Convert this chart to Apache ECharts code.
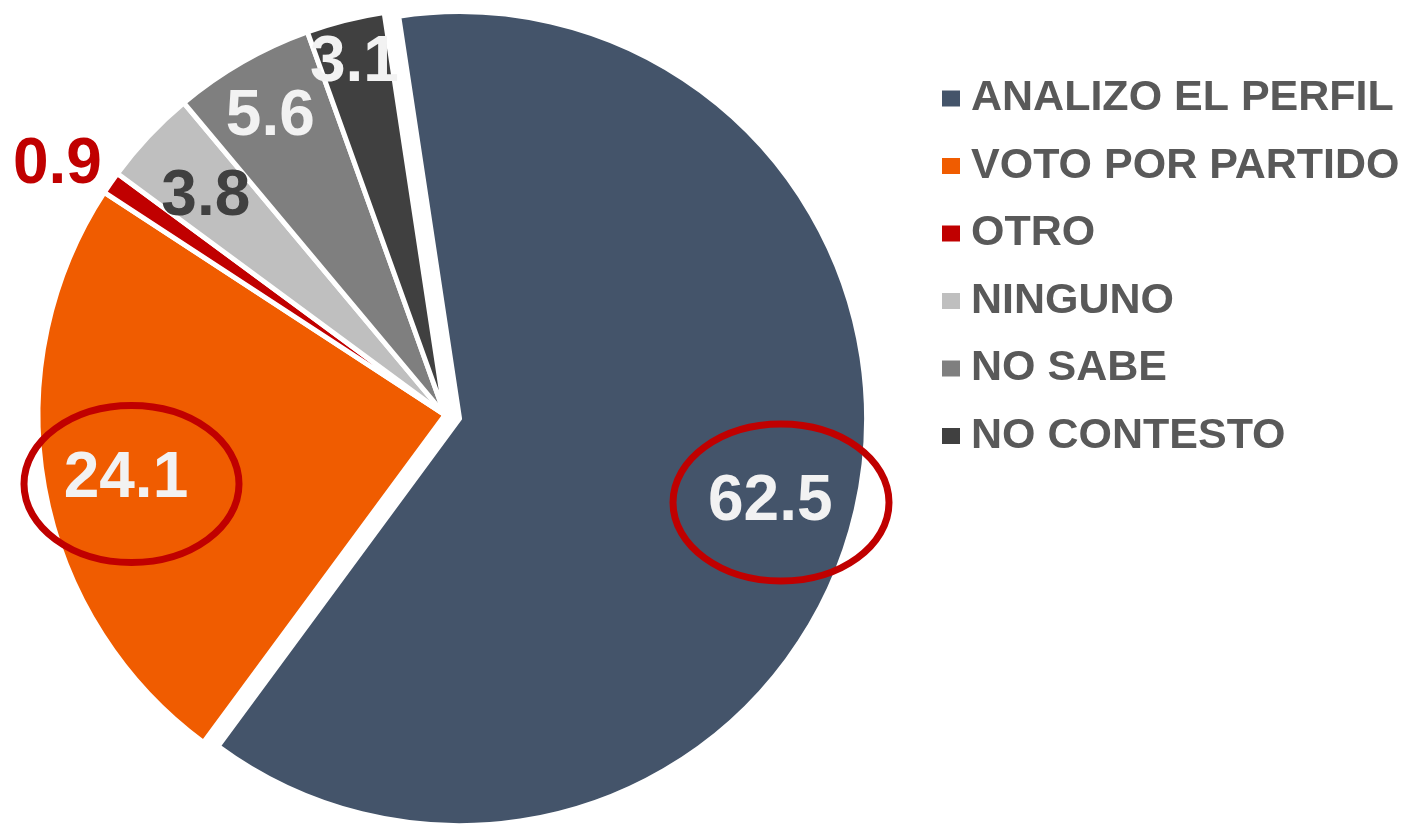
<!DOCTYPE html>
<html>
<head>
<meta charset="utf-8">
<script src="https://cdn.jsdelivr.net/npm/echarts@6/dist/echarts.min.js"></script>
<style>
html, body { margin: 0; padding: 0; background: #fff; }
#chart { width: 1405px; height: 824px; }
</style>
</head>
<body>
<div id="chart"></div>
<script>
const categories = ['ANALIZO EL PERFIL', 'VOTO POR PARTIDO', 'OTRO', 'NINGUNO', 'NO SABE', 'NO CONTESTO'];
const values = [62.5, 24.1, 0.9, 3.8, 5.6, 3.1];

const sliceColors = ['#44546A', '#F05C00', '#C00000', '#BFBFBF', '#7F7F7F', '#404040'];
const labelColors = ['#F2F2F2', '#F2F2F2', '#C00000', '#404040', '#F2F2F2', '#F2F2F2'];
// how far out each label sits, as a multiple of the default "inside" spot
const labelReach = [1.55, 1.57, 2.25, 1.59, 1.7, 1.79];
// small extra nudge for the outside "OTRO" label
const labelNudge = [[0, 0], [0, 0], [-6, 8], [0, 0], [0, 0], [0, 0]];

const CX = 445, CY = 415;
const FONT = '"Liberation Sans", Arial, sans-serif';

const chart = echarts.init(document.getElementById('chart'));

const pieData = categories.map(function (name, i) {
    return {
        name: name,
        value: values[i],
        selected: i === 0,
        itemStyle: { color: sliceColors[i] },
        label: { color: labelColors[i] }
    };
});

chart.setOption({
    animation: false,
    backgroundColor: '#fff',
    legend: {
        orient: 'vertical',
        left: 937,
        top: 72,
        itemWidth: 30,
        itemHeight: 16,
        itemGap: 24.5,
        icon: 'path://M0,0h18v16h-18z',
        selectedMode: false,
        itemStyle: { borderWidth: 0 },
        textStyle: {
            color: '#595959',
            fontFamily: FONT,
            fontWeight: 'bold',
            fontSize: 43,
            lineHeight: 43
        },
        data: categories
    },
    series: [{
        type: 'pie',
        center: [CX, CY],
        radius: 407,
        startAngle: 98.6,
        clockwise: true,
        selectedMode: 'single',
        selectedOffset: 15,
        avoidLabelOverlap: false,
        itemStyle: { borderColor: '#fff', borderWidth: 5 },
        select: { itemStyle: { borderColor: '#fff', borderWidth: 5 } },
        emphasis: { disabled: true },
        label: {
            show: true,
            position: 'inside',
            fontFamily: FONT,
            fontWeight: 'bold',
            fontSize: 64,
            formatter: function (p) { return p.value.toFixed(1); }
        },
        labelLine: { show: false },
        labelLayout: function (p) {
            const r = p.labelRect;
            const lx = r.x + r.width / 2;
            const ly = r.y + r.height / 2;
            const k = labelReach[p.dataIndex] - 1;
            const n = labelNudge[p.dataIndex];
            return { dx: (lx - CX) * k + n[0], dy: (ly - CY) * k + 7 + n[1] };
        },
        data: pieData
    }],
    graphic: [
        {
            type: 'ellipse', z: 100,
            shape: { cx: 131.5, cy: 484, rx: 107.5, ry: 78.5 },
            style: { fill: 'none', stroke: '#C00000', lineWidth: 7 }
        },
        {
            type: 'ellipse', z: 100,
            shape: { cx: 781, cy: 502.5, rx: 108, ry: 78.5 },
            style: { fill: 'none', stroke: '#C00000', lineWidth: 7 }
        }
    ]
});
</script>
</body>
</html>
